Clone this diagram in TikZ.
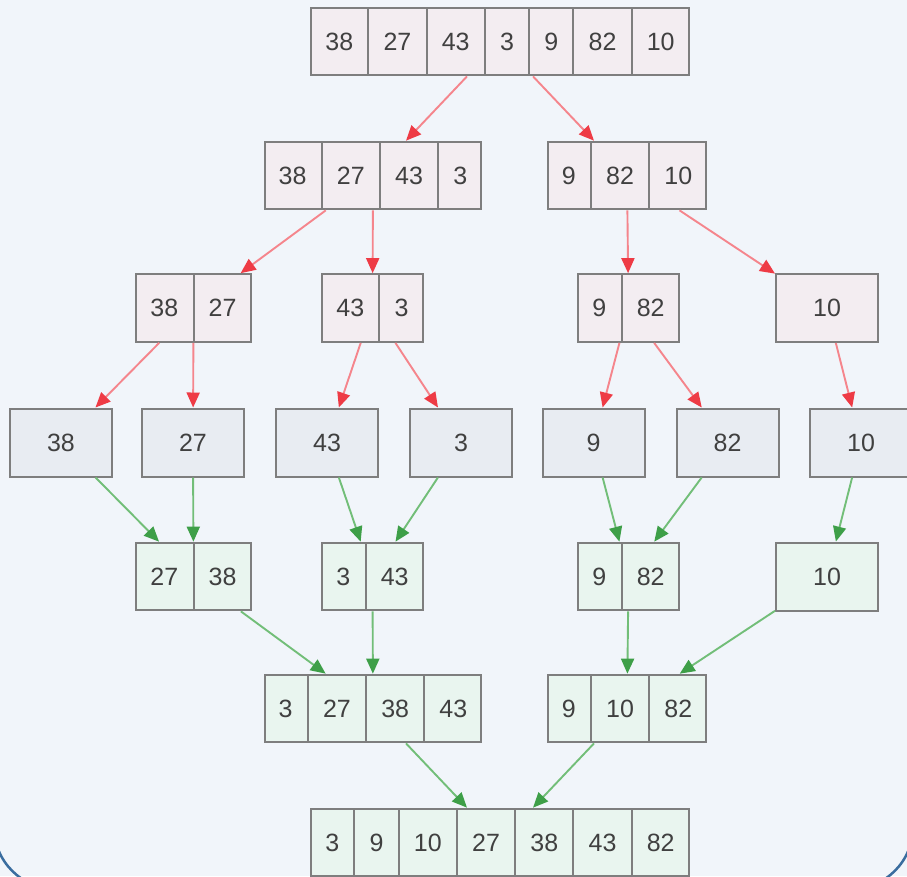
\documentclass[tikz,border=0pt]{standalone}
\usepackage{fontspec}
\setmainfont{Liberation Sans}
\usetikzlibrary{shapes.multipart,arrows.meta}
\definecolor{bgblue}{HTML}{F1F5FA}
\definecolor{frameblue}{HTML}{3A6D9F}
\definecolor{cellgray}{HTML}{7E7E7E}
\definecolor{numgray}{HTML}{404040}
\definecolor{splitpink}{HTML}{F3EDF1}
\definecolor{leafgray}{HTML}{E8ECF2}
\definecolor{mergegreen}{HTML}{E9F5EF}
\definecolor{redline}{HTML}{F5858C}
\definecolor{redtip}{HTML}{EE3B45}
\definecolor{greenline}{HTML}{72BE78}
\definecolor{greentip}{HTML}{3E9F48}
\begin{document}
\begin{tikzpicture}[x=1pt,y=-1pt,
    boxline/.style={draw=cellgray,line width=2pt,text=numgray,font=\fontsize{25}{30}\selectfont},
    cells/.style={boxline,rectangle split,rectangle split horizontal,
      rectangle split parts=#1,inner xsep=14.2pt,inner ysep=25pt},
    splitbox/.style={cells=#1,fill=splitpink},
    mergebox/.style={cells=#1,fill=mergegreen},
    onebox/.style={boxline,minimum width=102pt,minimum height=68pt,inner sep=0pt},
    leafbox/.style={onebox,fill=leafgray},
    down/.style={draw=redline,line width=1.9pt,-{Triangle[length=15pt,width=13pt,color=redtip]}},
    up/.style={draw=greenline,line width=1.9pt,-{Triangle[length=15pt,width=13pt,color=greentip]}}]
      \useasboundingbox (0,0) rectangle (907,876);
      \fill[bgblue] (0,0) rectangle (907,876);
      \begin{scope}
        \clip (0,0) rectangle (907,876);
        \draw[frameblue,line width=2.5pt,rounded corners=62pt] (-6,-100) rectangle (913,889);
      \end{scope}
      % splitting half
      \draw
        (500,41.5) node[splitbox=7] (0){38\nodepart{two}27\nodepart{three}43\nodepart{four}3\nodepart{five}9\nodepart{six}82\nodepart{seven}10}
        (373,175.5) node[splitbox=4] (1){38\nodepart{two}27\nodepart{three}43\nodepart{four}3}
        (627,175.5) node[splitbox=3] (2){9\nodepart{two}82\nodepart{three}10}
        (193.5,308) node[splitbox=2] (3){38\nodepart{two}27}
        (372.5,308) node[splitbox=2] (4){43\nodepart{two}3}
        (628.5,308) node[splitbox=2] (5){9\nodepart{two}82}
        (827,308) node[onebox,fill=splitpink] (6){10};
      % single elements
      \draw
        (61,442.5) node[leafbox] (7){38}
        (193,442.5) node[leafbox] (8){27}
        (327,442.5) node[leafbox] (9){43}
        (461,442.5) node[leafbox] (10){3}
        (593.5,442.5) node[leafbox] (11){9}
        (727.5,442.5) node[leafbox] (12){82}
        (861,442.5) node[leafbox] (13){10};
      % merging half
      \draw
        (193.5,576.5) node[mergebox=2] (14){27\nodepart{two}38}
        (372.5,576.5) node[mergebox=2] (15){3\nodepart{two}43}
        (628.5,576.5) node[mergebox=2] (16){9\nodepart{two}82}
        (827,576.5) node[onebox,fill=mergegreen] (17){10}
        (373,708.5) node[mergebox=4] (18){3\nodepart{two}27\nodepart{three}38\nodepart{four}43}
        (627,708.5) node[mergebox=3] (19){9\nodepart{two}10\nodepart{three}82}
        (500,842.5) node[mergebox=7] (20){3\nodepart{two}9\nodepart{three}10\nodepart{four}27\nodepart{five}38\nodepart{six}43\nodepart{seven}82};
      \begin{scope}[down]
        \draw (0) to (1);
        \draw (0) to (2);
        \draw (1) to (3);
        \draw (1) to (4);
        \draw (2) to (5);
        \draw (2) to (6);
        \draw (3) to (7);
        \draw (3) to (8);
        \draw (4) to (9);
        \draw (4) to (10);
        \draw (5) to (11);
        \draw (5) to (12);
        \draw (6) to (13);
      \end{scope}
      \begin{scope}[up]
        \draw (7) to (14);
        \draw (8) to (14);
        \draw (9) to (15);
        \draw (10) to (15);
        \draw (11) to (16);
        \draw (12) to (16);
        \draw (13) to (17);
        \draw (14) to (18);
        \draw (15) to (18);
        \draw (16) to (19);
        \draw (17) to (19);
        \draw (18) to (20);
        \draw (19) to (20);
      \end{scope}
    \end{tikzpicture}
\end{document}
